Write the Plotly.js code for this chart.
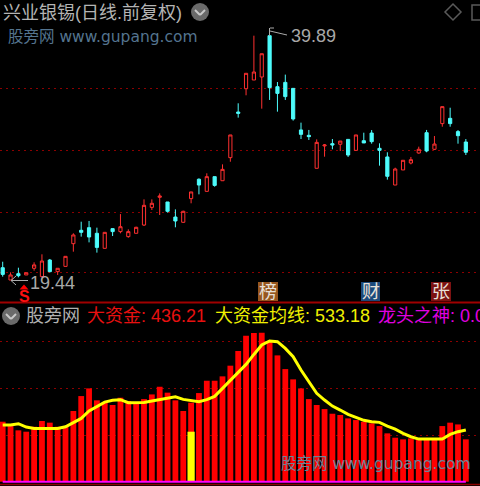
<!DOCTYPE html>
<html><head><meta charset="utf-8">
<script src="https://cdn.plot.ly/plotly-3.0.1.min.js"></script>
<style>html,body{margin:0;padding:0;background:#000;overflow:hidden}#c{width:480px;height:486px}</style>
</head><body><div id="c"></div>
<script>
const open_ = [20.47,19.44,19.97,19.86,20.42,19.72,21.11,20.14,20.58,22.48,23.60,23.82,23.35,22.09,23.74,23.49,23.07,23.35,24.04,25.52,26.36,25.97,24.71,24.27,26.25,27.87,26.86,28.09,27.75,29.68,33.50,35.45,36.18,36.43,39.89,35.62,35.98,35.48,32.00,31.55,28.79,30.66,30.85,30.80,31.21,30.29,31.10,31.74,30.46,29.74,27.39,28.65,29.23,30.07,31.77,30.38,32.53,32.97,31.86,30.99];
const high_ = [20.97,20.08,20.47,20.05,20.92,21.59,21.20,20.42,21.42,23.35,24.32,24.38,23.82,23.43,23.76,24.96,23.68,23.90,26.19,26.19,26.69,25.97,25.35,25.24,26.81,27.95,28.37,28.09,29.12,31.58,34.23,36.74,39.89,38.38,39.89,36.01,36.63,35.48,32.61,32.00,31.21,30.82,31.24,31.07,31.21,31.58,31.77,31.99,30.88,30.13,28.84,29.46,29.74,30.60,32.00,31.49,33.95,33.86,31.99,31.24];
const low_ = [19.72,19.44,19.66,19.86,20.22,19.66,20.08,19.86,20.58,21.81,23.07,22.59,21.73,22.09,23.12,23.35,22.98,23.35,23.96,25.30,24.88,25.08,23.85,24.24,25.86,26.61,26.86,27.25,27.75,29.34,33.03,34.90,36.18,33.78,34.51,33.53,34.51,32.78,31.24,31.16,28.79,29.76,30.38,30.24,29.74,30.29,30.91,30.85,29.01,27.84,27.39,28.65,29.12,30.01,30.13,30.32,32.27,32.27,30.85,29.90];
const close_ = [19.91,19.86,19.80,20.05,20.70,21.03,20.14,20.42,21.42,23.21,23.43,23.04,22.17,23.43,23.49,23.90,23.49,23.85,25.69,25.86,26.47,25.19,24.38,25.19,26.81,27.39,28.09,27.36,28.70,31.58,33.39,36.74,36.85,38.38,35.54,35.06,34.79,32.92,31.63,31.44,30.96,30.74,30.74,31.07,29.90,31.58,30.91,31.02,30.29,28.12,28.73,29.46,29.51,30.38,30.24,30.82,33.95,32.53,31.52,30.13];
const bigMoney = [618,573,529,515,566,625,608,566,573,728,882,961,838,814,790,865,831,817,851,899,978,917,838,728,814,913,1040,1040,1085,1195,1346,1504,1531,1535,1449,1301,1160,1054,961,851,790,748,700,687,652,635,618,601,573,498,453,436,446,429,439,439,573,608,590,436.21];
const bigMoneyAvg = [584,584,597,563,549,549,549,549,566,608,652,728,772,820,838,845,814,814,817,831,845,858,875,848,834,824,845,879,961,1047,1123,1208,1311,1408,1449,1442,1373,1287,1150,1030,910,841,779,738,693,663,632,618,611,573,542,498,463,439,439,439,439,487,515,533.18];
const dragonIdx = [24];
const dragonVal = [515];
const priceGrid = [35.47,30.32,25.13,20.03];
const moneyGrid = [1439,960,481];

const idx = open_.map((_, i) => i);
const zeros = idx.map(() => 0);
const W = 480, H = 486;
const px = x => x / W, py = y => 1 - y / H;
const xr = [-2.7 / 7.85, (W - 2.7) / 7.85];
const SPLIT = 303, BOTTOM = 484;
const FONT = "'Liberation Sans','Noto Sans CJK SC',sans-serif";

const traces = [
  {type:'candlestick', x:idx, open:open_, high:high_, low:low_, close:close_, xaxis:'x', yaxis:'y',
   increasing:{line:{color:'#ff3030',width:1}, fillcolor:'#000000'},
   decreasing:{line:{color:'#4dfcfc',width:1}, fillcolor:'#4dfcfc'},
   whiskerwidth:0, hoverinfo:'skip', showlegend:false},
  {type:'bar', x:idx, y:bigMoney, width:0.74, marker:{color:'#ff0000',line:{width:0}}, xaxis:'x2', yaxis:'y2', hoverinfo:'skip', showlegend:false},
  {type:'bar', x:dragonIdx, y:dragonVal, width:0.92, marker:{color:'#ffff00',line:{width:0}}, xaxis:'x2', yaxis:'y2', hoverinfo:'skip', showlegend:false},
  {type:'scatter', mode:'lines', x:idx, y:bigMoneyAvg, line:{color:'#ffff00',width:3}, xaxis:'x2', yaxis:'y2', hoverinfo:'skip', showlegend:false},
  {type:'scatter', mode:'lines', x:idx, y:zeros, line:{color:'#ff00ff',width:2}, xaxis:'x2', yaxis:'y2', hoverinfo:'skip', showlegend:false}
];

const txt = (x, y, text, color, size, extra) => Object.assign({
  xref:'paper', yref:'paper', x:px(x), y:py(y), text, showarrow:false, xanchor:'left', yanchor:'middle',
  borderpad:0, borderwidth:0, font:{family:FONT, size, color}
}, extra || {});

const badge = (x0, x1, label, bg) => [
  {type:'rect', xref:'paper', yref:'paper', x0:px(x0), x1:px(x1), y0:py(282), y1:py(301), fillcolor:bg, line:{width:0}, layer:'above'},
  txt((x0 + x1) / 2, 291.5, label, '#e8e0d8', 18, {xanchor:'center'})
];
const seg = (x0, y0, x1, y1, color, w) => ({type:'line', xref:'paper', yref:'paper', x0:px(x0), y0:py(y0), x1:px(x1), y1:py(y1), line:{color, width:w}, layer:'above'});
const circleIcon = (cx, cy) => [
  {type:'circle', xref:'paper', yref:'paper', x0:px(cx - 9), x1:px(cx + 9), y0:py(cy - 9), y1:py(cy + 9), fillcolor:'#6a6a6a', line:{width:0}, layer:'above'},
  seg(cx - 5, cy - 2, cx, cy + 3, '#c8c8c8', 2),
  seg(cx, cy + 3, cx + 5, cy - 2, '#c8c8c8', 2)
];

const badges = [badge(258,278,'榜','#96561f'), badge(361,380,'财','#1b4a7c'), badge(431,451,'张','#7c1212')];
const shapes = [
  seg(0, 302.5, W, 302.5, '#a00000', 2),
  seg(0, 484.5, W, 484.5, '#8a0000', 1.5),
  ...circleIcon(200, 12), ...circleIcon(11, 316),
  ...badges.map(b => b[0]),
  {type:'path', xref:'paper', yref:'paper', layer:'above', fillcolor:'#ff0000', line:{width:0},
   path:`M${px(24)},${py(284.5)} L${px(28.5)},${py(289.5)} L${px(19.5)},${py(289.5)} Z`},
  {type:'path', xref:'paper', yref:'paper', layer:'above', line:{color:'#5a5a5a',width:1.5},
   path:`M${px(453)},${py(4)} L${px(461)},${py(12)} L${px(453)},${py(20)} L${px(445)},${py(12)} Z`},
  {type:'rect', xref:'paper', yref:'paper', layer:'above', x0:px(472), x1:px(484), y0:py(5), y1:py(20), line:{color:'#5a5a5a',width:1.5}},
  seg(269.5, 28, 269.5, 36, '#aaaaaa', 1),
  seg(270, 28, 274, 28, '#aaaaaa', 1),
  seg(270, 31, 287, 35, '#aaaaaa', 1),
  seg(11, 280.5, 28, 280.5, '#aaaaaa', 1),
  seg(11, 280.5, 16, 276, '#aaaaaa', 1),
  seg(11, 280.5, 16, 285, '#aaaaaa', 1)
];

const annotations = [
  txt(3, 13, '兴业银锡(日线.前复权)', '#b4b4b4', 18),
  txt(8, 37, '股旁网 www.gupang.com', '#54748f', 15.5, {font:{family:"'DejaVu Sans','Noto Sans CJK SC',sans-serif", size:15.5, color:'#54748f'}}),
  txt(291, 35.5, '39.89', '#a8a8a8', 18),
  txt(30, 283, '19.44', '#a8a8a8', 18),
  txt(24, 296, '<b>S</b>', '#ff1010', 16, {xanchor:'center'}),
  ...badges.map(b => b[1]),
  txt(26, 316, '股旁网', '#b0b0b0', 18),
  txt(87, 316, '大资金: 436.21', '#e81010', 18),
  txt(215, 316, '大资金均线: 533.18', '#f0f000', 18),
  txt(378, 316, '龙头之神: 0.0', '#e000e0', 18),
  txt(281, 464, '股旁网 www.gupang.com', '#6f8296', 15.5, {font:{family:"'DejaVu Sans','Noto Sans CJK SC',sans-serif", size:15.5, color:'#6f8296'}})
];

const gridStyle = {showgrid:true, gridcolor:'#8c0000', griddash:'2px 4px', gridwidth:1, zeroline:false, showticklabels:false, ticks:'', showline:false};
const y1at = y => 19.44 + (280 - y) * 0.0837;
const y2at = y => (481.7 - y) * 10.3;
const hiddenX = {range:xr, visible:false, fixedrange:true, rangeslider:{visible:false}};

const layout = {
  width:W, height:H, margin:{l:0,r:0,t:0,b:0}, paper_bgcolor:'#000', plot_bgcolor:'#000',
  showlegend:false, barmode:'overlay', boxgap:0.42, dragmode:false,
  xaxis:Object.assign({anchor:'y'}, hiddenX),
  xaxis2:Object.assign({anchor:'y2'}, hiddenX),
  yaxis:Object.assign({domain:[1 - SPLIT / H, 1], range:[y1at(SPLIT), y1at(0)], tickvals:priceGrid, anchor:'x'}, gridStyle),
  yaxis2:Object.assign({domain:[1 - BOTTOM / H, 1 - SPLIT / H], range:[y2at(BOTTOM), y2at(SPLIT)], tickvals:moneyGrid, anchor:'x2'}, gridStyle),
  shapes, annotations
};
Plotly.newPlot('c', traces, layout, {displayModeBar:false, staticPlot:true});
</script></body></html>
